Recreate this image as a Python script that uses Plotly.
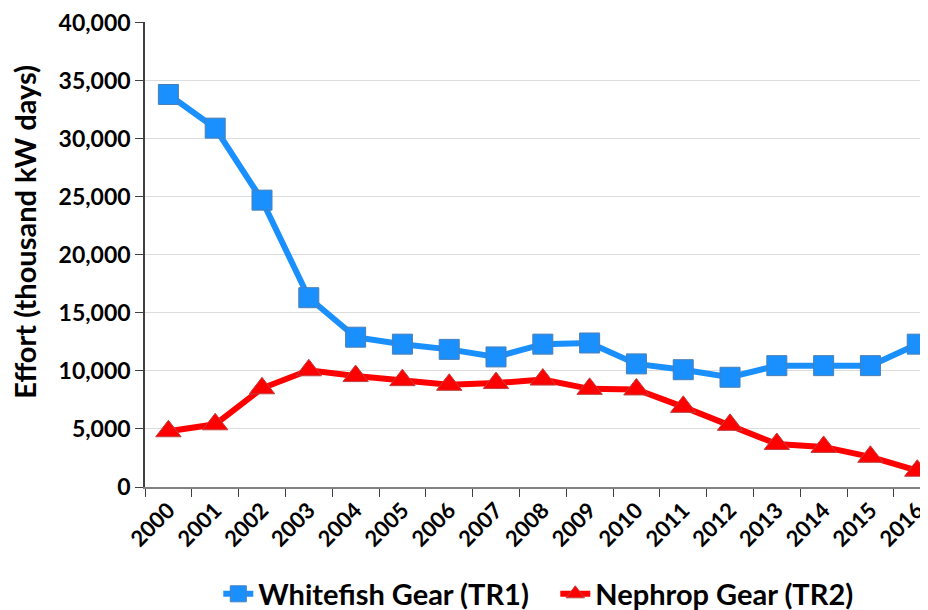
import plotly.graph_objects as go

years = [str(y) for y in range(2000, 2017)]
whitefish = [33800, 30900, 24700, 16300, 12900, 12300, 11850, 11200, 12300, 12400,
             10600, 10100, 9450, 10450, 10450, 10450, 12300]
nephrop = [4800, 5400, 8500, 10050, 9550, 9200, 8800, 8950, 9250, 8450,
           8400, 6900, 5350, 3700, 3450, 2600, 1400]
ytick_vals = [0, 5000, 10000, 15000, 20000, 25000, 30000, 35000, 40000]
y_title = "Effort (thousand kW days)"

FONT = "Lato"

fig = go.Figure()
fig.add_trace(go.Scatter(
    x=years, y=whitefish, mode="lines+markers", name="Whitefish Gear (TR1)",
    line=dict(color="#1a90ff", width=6),
    marker=dict(symbol="square", size=20, color="#1a90ff",
                line=dict(color="#4a7fb5", width=1))))
fig.add_trace(go.Scatter(
    x=years, y=nephrop, mode="lines+markers", name="Nephrop Gear (TR2)",
    line=dict(color="#ff0000", width=6),
    marker=dict(symbol="triangle-up", size=22, color="#ff0000",
                line=dict(color="#c04040", width=1))))

fig.update_layout(
    width=920, height=602,
    paper_bgcolor="white", plot_bgcolor="white",
    margin=dict(l=137, r=0, t=14, b=123, autoexpand=False),
    font=dict(family=FONT, color="black"),
    legend=dict(orientation="h", x=0.524, xanchor="center", y=-0.23, yanchor="middle",
                font=dict(size=29, family=FONT, weight="bold"), itemwidth=30,
                entrywidth=292, entrywidthmode="pixels",
                traceorder="normal"),
    showlegend=True,
    annotations=[dict(text=y_title, xref="paper", yref="paper", x=-0.154, y=0.55,
                      xanchor="center", yanchor="middle", textangle=-90, showarrow=False,
                      font=dict(size=29, family=FONT, weight="bold", color="black"))],
)
fig.update_xaxes(
    type="category", range=[-0.5, 16.23], automargin=False,
    tickangle=-45, tickfont=dict(size=22, family=FONT, weight="bold"),
    showline=True, linecolor="#808080", linewidth=1.5,
    ticks="outside", tickson="boundaries", ticklen=8, tickcolor="#404040",
    showgrid=False, ticklabeloverflow="allow",
)
fig.update_yaxes(
    range=[0, 40040], tickvals=ytick_vals, tickformat=",d", automargin=False,
    tickfont=dict(size=23, family=FONT, weight="bold"),
    showline=True, linecolor="#404040", linewidth=1.5,
    ticks="outside", ticklen=8, tickcolor="#404040",
    showgrid=True, gridcolor="#dcdcdc", gridwidth=1, zeroline=False,
    ticklabeloverflow="allow",
)

fig.write_html("out.html")
